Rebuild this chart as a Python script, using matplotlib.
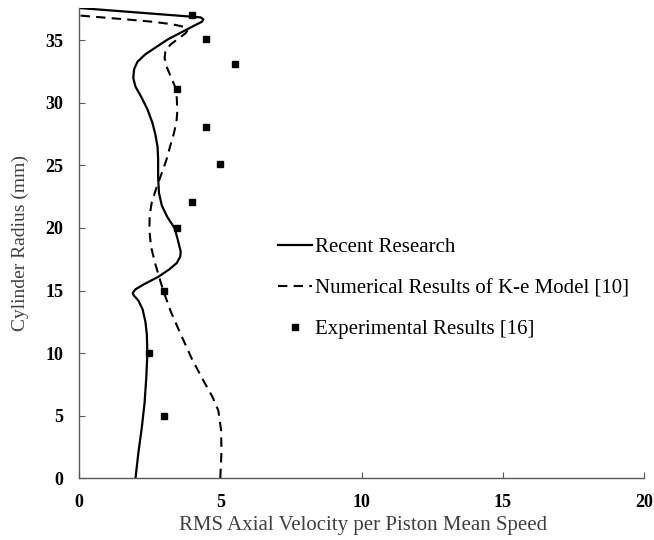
import matplotlib
matplotlib.use("Agg")
import matplotlib.pyplot as plt

# Recent Research (solid)
recent_x = [2.00, 2.10, 2.22, 2.32, 2.38, 2.42, 2.40, 2.35, 2.25, 2.10, 1.94, 1.90, 2.00, 2.30, 2.81,
            3.20, 3.46, 3.58, 3.60, 3.48, 3.38, 3.12, 2.93, 2.83, 2.80, 2.80, 2.78, 2.70, 2.60, 2.42,
            2.20, 2.00, 1.92, 1.95, 2.07, 2.35, 2.75, 3.15, 3.58, 4.00, 4.35, 4.40, 4.30, 0.0]
recent_y = [0.0, 2.0, 4.0, 6.0, 8.0, 10.0, 11.5, 12.5, 13.5, 14.2, 14.6, 14.8, 15.1, 15.5, 16.1,
            16.7, 17.2, 17.7, 18.1, 19.2, 20.0, 20.9, 21.8, 22.8, 24.0, 25.5, 26.5, 27.5, 28.4, 29.5,
            30.5, 31.3, 32.0, 32.7, 33.3, 33.9, 34.5, 35.1, 35.6, 36.1, 36.5, 36.7, 36.85, 37.6]

# Numerical Results of K-e Model [10] (dashed)
ke_x = [5.00, 5.04, 5.03, 4.93, 4.72, 4.40, 4.00, 3.58, 3.25, 2.98, 2.82, 2.69, 2.55, 2.49, 2.50,
        2.57, 2.75, 2.93, 3.10, 3.22, 3.35, 3.45, 3.48, 3.46, 3.40, 3.25, 3.10, 3.03, 3.06, 3.25,
        3.55, 3.78, 3.85, 3.70, 3.30, 2.60, 1.60, 0.80, 0.0]
ke_y = [0.0, 2.0, 3.8, 5.4, 6.5, 7.8, 9.5, 11.6, 13.3, 15.0, 16.2, 17.2, 18.5, 19.8, 21.0,
        22.0, 23.3, 24.4, 25.5, 26.5, 27.5, 28.5, 29.4, 30.4, 31.3, 32.1, 32.9, 33.6, 34.2, 34.7,
        35.2, 35.6, 35.85, 36.1, 36.3, 36.5, 36.7, 36.85, 37.0]

# Experimental Results [16]
exp_x = [3.02, 2.48, 3.02, 3.48, 4.01, 4.99, 4.48, 3.48, 5.51, 4.48, 4.01]
exp_y = [5.0, 10.0, 15.0, 20.0, 22.1, 25.1, 28.1, 31.1, 33.1, 35.1, 37.0]

xticks = [0, 5, 10, 15, 20]
yticks = [0, 5, 10, 15, 20, 25, 30, 35]

plt.rcParams['font.family'] = ['Liberation Serif', 'DejaVu Serif']

fig = plt.figure(figsize=(6.54, 5.40), dpi=100)
ax = fig.add_axes([0.1208, 0.1148, 0.8642, 0.8704])

ax.plot(recent_x, recent_y, color='black', lw=1.6, label='Recent Research')
ax.plot(ke_x, ke_y, color='black', lw=1.5, dashes=(4.5, 3), label='Numerical Results of K-e Model [10]')
ax.plot(exp_x, exp_y, ls='none', marker='s', ms=4, color='black', label='Experimental Results [16]')

ax.set_xlim(0, 20)
ax.set_ylim(0, 37.6)
ax.set_xticks(xticks)
ax.set_yticks(yticks)
for lab in ax.get_xticklabels() + ax.get_yticklabels():
    lab.set_fontweight('bold')
    lab.set_fontsize(13)
ax.tick_params(direction='in', length=4, color='#595959', pad=11.5)
for s in ['top', 'right']:
    ax.spines[s].set_visible(False)
for s in ['left', 'bottom']:
    ax.spines[s].set_color('#595959')
    ax.spines[s].set_linewidth(1.0)

ax.set_xlabel('RMS Axial Velocity per Piston Mean Speed', fontsize=15, color='#404040', va='center')
ax.set_ylabel('Cylinder Radius (mm)', fontsize=14, color='#404040', va='center')
ax.xaxis.set_label_coords(0.503, -0.102)
ax.yaxis.set_label_coords(-0.103, 0.5)

fig.legend(loc='center left', bbox_to_anchor=(0.397, 0.466), frameon=False, fontsize=15,
           handlelength=1.63, handletextpad=0.15, labelspacing=1.03, markerscale=1.0)

fig.savefig('out.png', dpi=100)
